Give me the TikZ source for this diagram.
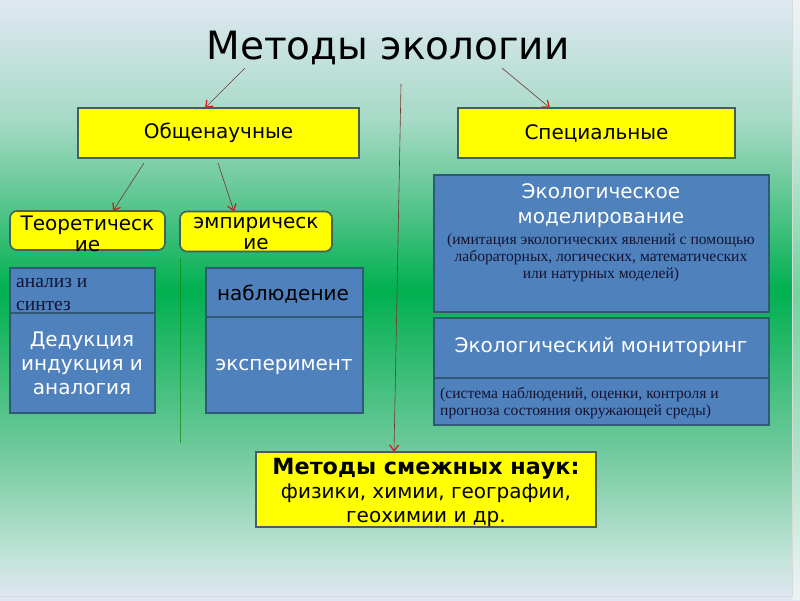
\documentclass[tikz,border=0pt]{standalone}
\usepackage{fontspec}
\setmainfont{DejaVu Sans}
\newfontfamily\seriffont{Liberation Serif}
\usetikzlibrary{arrows.meta}
\definecolor{bgA}{HTML}{DFE8F2}
\definecolor{bgB}{HTML}{A6DAC6}
\definecolor{bgC}{HTML}{5CC690}
\definecolor{bgD}{HTML}{00B050}
\definecolor{bgE}{HTML}{70CA9C}
\definecolor{bgF}{HTML}{C4E4DA}
\definecolor{bgG}{HTML}{E2E6F4}
\definecolor{ylw}{HTML}{FFFF00}
\definecolor{ybord}{HTML}{44605A}
\definecolor{blu}{HTML}{4F81BD}
\definecolor{bbord}{HTML}{2E5A78}
\definecolor{arr}{HTML}{6E3A2E}
\definecolor{arrhead}{HTML}{D02020}
\definecolor{navy}{HTML}{141432}
\tikzset{
  ybox/.style={draw=ybord, fill=ylw, line width=1.6pt, inner sep=0pt, outer sep=0pt},
  rbox/.style={ybox, rounded corners=7pt},
  bbox/.style={draw=bbord, fill=blu, line width=1.4pt, inner sep=0pt, outer sep=0pt},
  link/.style={draw=arr, line width=0.6pt, -{Straight Barb[length=6pt,width=9pt,line width=1.3pt,color=arrhead]}},
  wtxt/.style={text=white, align=center, inner sep=0pt},
  btxt/.style={text=black, align=center, inner sep=0pt},
  big/.style={font=\fontsize{20}{24}\selectfont},
  ser/.style={font=\seriffont\fontsize{15.6}{17}\selectfont},
}
\begin{document}
\begin{tikzpicture}[x=1pt,y=-1pt]
\useasboundingbox (0,0) rectangle (800,600);
% background
\shade[top color=bgA, bottom color=bgB] (0,-1) rectangle (800,121);
\shade[top color=bgB, bottom color=bgC] (0,120) rectangle (800,201);
\shade[top color=bgC, bottom color=bgD] (0,200) rectangle (800,291);
\shade[top color=bgD, bottom color=bgE] (0,290) rectangle (800,451);
\shade[top color=bgE, bottom color=bgF] (0,450) rectangle (800,561);
\shade[top color=bgF, bottom color=bgG] (0,560) rectangle (800,601);
\fill[white, opacity=0.45] (792,0) rectangle (800,600);
\draw[white!70!gray, line width=0.5pt] (792,0) -- (792,596) -- (0,596);

% title
\node[inner sep=0pt, font=\fontsize{39}{44}\selectfont] (title) at (388,48) {Методы экологии};

% level 1
\node[ybox, big, minimum width=281pt, minimum height=50pt] (gen) at (218.5,133) {Общенаучные};
\node[ybox, big, minimum width=277pt, minimum height=50pt] (spec) at (596.5,133) {Специальные};

% rounded
\node[rbox, minimum width=155pt, minimum height=39pt] (theo) at (87.5,230.5) {};
\node[btxt, font=\fontsize{20}{21}\selectfont] at (87.5,233.5) {Теоретическ\\ие};
\node[rbox, minimum width=152pt, minimum height=40pt] (emp) at (256,231.5) {};
\node[btxt, font=\fontsize{20}{21}\selectfont] at (256,233.5) {эмпирическ\\ие};

% left blue
\node[bbox, minimum width=145pt, minimum height=45pt] (anal) at (82.5,290.5) {};
\node[bbox, minimum width=145pt, minimum height=100pt] (ded) at (82.5,363) {};
\node[anchor=west, align=left, inner sep=0pt, text=navy, font=\seriffont\fontsize{19.5}{23}\selectfont] at (16,294) {анализ и\\синтез};
\node[wtxt, font=\fontsize{20}{24}\selectfont] at (82,363) {Дедукция\\индукция и\\аналогия};

% middle blue
\node[bbox, minimum width=157pt, minimum height=49pt] (obs) at (284.5,292.5) {};
\node[bbox, minimum width=157pt, minimum height=96pt] (exp) at (284.5,365) {};
\node[btxt, big] at (283,294) {наблюдение};
\node[wtxt, big] at (284,367) {эксперимент};

% thin green line
\draw[green!50!black, opacity=0.6, line width=0.6pt] (180,258) -- (180,443);

% right blue
\node[bbox, minimum width=335pt, minimum height=137pt] (model) at (601.5,243.5) {};
\node[wtxt, font=\fontsize{20}{25}\selectfont] at (601,205.5) {Экологическое\\моделирование};
\node[align=center, inner sep=0pt, text=navy, ser] at (601,258)
  {(имитация экологических явлений с помощью\\лабораторных, логических, математических\\или натурных моделей)};
\node[bbox, minimum width=335pt, minimum height=60pt] (mon) at (601.5,348) {};
\node[wtxt, big] at (601,347) {Экологический мониторинг};
\node[bbox, minimum width=335pt, minimum height=47pt] (mondesc) at (601.5,401.5) {};
\node[anchor=west, align=left, inner sep=0pt, text=navy, ser] at (440,403.5)
  {(система наблюдений, оценки, контроля и\\прогноза состояния окружающей среды)};

% bottom
\node[ybox, minimum width=340pt, minimum height=75pt] (adj) at (426,489.5) {};
\node[btxt, font=\fontsize{20}{24}\selectfont] at (426,492) {\fontsize{22.3}{24}\selectfont\textbf{Методы смежных наук:}\\физики, химии, географии,\\геохимии и др.};

% connectors
\coordinate (t1) at (245,68);
\coordinate (t2) at (502,68);
\coordinate (t3) at (401,84);
\coordinate (g1) at (144,163);
\coordinate (g2) at (218,163);
\draw[link] (t1) -- (gen.north -| 205,0);
\draw[link] (t2) -- (spec.north -| 550,0);
\draw[link] (g1) -- (theo.north -| 113,0);
\draw[link] (g2) -- (emp.north -| 234,0);
\draw[link] (t3) -- (adj.north -| 394,0);
\end{tikzpicture}
\end{document}
